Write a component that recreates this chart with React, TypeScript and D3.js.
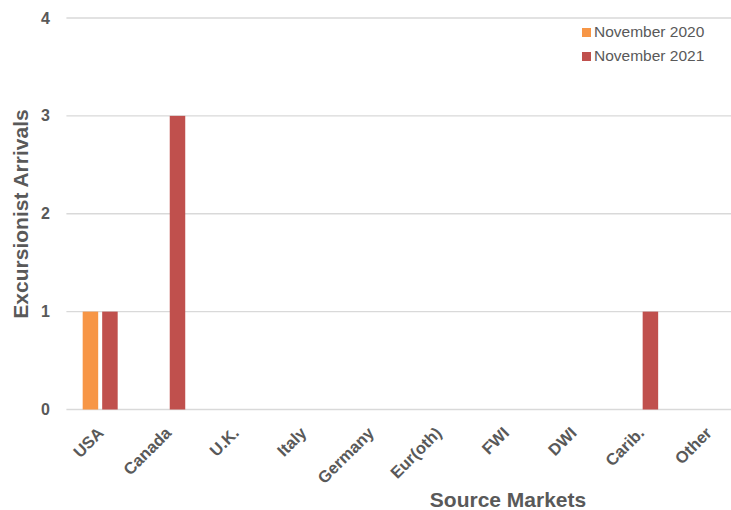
import React from 'react';
import * as d3 from 'd3';

const categories = ['USA', 'Canada', 'U.K.', 'Italy', 'Germany', 'Eur(oth)', 'FWI', 'DWI', 'Carib.', 'Other'];
const seriesNames = ['November 2020', 'November 2021'];
const nov2020 = [1, 0, 0, 0, 0, 0, 0, 0, 0, 0];
const nov2021 = [1, 3, 0, 0, 0, 0, 0, 0, 1, 0];
const yTicks = [0, 1, 2, 3, 4];
const colors = ['#F79646', '#C0504D'];

const W = 731;
const H = 510;
const font = '"Liberation Sans", Arial, sans-serif';
const textColor = '#595959';

const App: React.FC = () => {
  const x0 = d3.scaleBand<string>().domain(categories).range([66.4, 742]).padding(0);
  const groupW = 35;
  const x1 = d3.scaleBand<string>()
    .domain(seriesNames)
    .range([(x0.bandwidth() - groupW) / 2, (x0.bandwidth() + groupW) / 2])
    .paddingInner(0.205);
  const y = d3.scaleLinear().domain([0, 4]).range([409.5, 18]);
  const series = [nov2020, nov2021];

  return (
    <div style={{ position: 'absolute', left: 0, top: 0 }}>
      <svg width={W} height={H} style={{ display: 'block', overflow: 'hidden' }} fontFamily={font}>
        <rect width={W} height={H} fill="#fff" />
        {yTicks.map(t => (
          <g key={t}>
            <line x1={66.4} x2={742} y1={y(t)} y2={y(t)} stroke="#D9D9D9" strokeWidth={1.3} />
            <text x={50} y={y(t)} dy="0.35em" textAnchor="end" fontSize={16} fontWeight="bold" fill={textColor}>{t}</text>
          </g>
        ))}
        {categories.map((c, i) => (
          <g key={c} transform={`translate(${x0(c)},0)`}>
            {seriesNames.map((s, j) => {
              const v = series[j][i];
              if (!v) return null;
              return (
                <rect key={s} x={x1(s)} width={x1.bandwidth()} y={y(v)} height={y(0) - y(v)} fill={colors[j]} />
              );
            })}
          </g>
        ))}
        {categories.map(c => {
          const cx = (x0(c) as number) + x0.bandwidth() / 2 + 0.5;
          const cy = 430;
          return (
            <text key={c} transform={`translate(${cx},${cy}) rotate(-45)`} textAnchor="end" dy="0.35em"
              fontSize={16.5} fontWeight="bold" fill={textColor}>{c}</text>
          );
        })}
        <text transform="translate(21,214) rotate(-90)" textAnchor="middle" dy="0.35em" fontSize={21} fontWeight="bold" fill={textColor}>Excursionist Arrivals</text>
        <text x={508} y={507} textAnchor="middle" fontSize={21} fontWeight="bold" fill={textColor}>Source Markets</text>
        {seriesNames.map((s, j) => (
          <g key={s} transform={`translate(582,${28 + j * 24})`}>
            <rect width={9} height={9} fill={colors[j]} />
            <text x={12} y={4} dy="0.35em" fontSize={15.5} fill={textColor}>{s}</text>
          </g>
        ))}
      </svg>
    </div>
  );
};

export default App;
